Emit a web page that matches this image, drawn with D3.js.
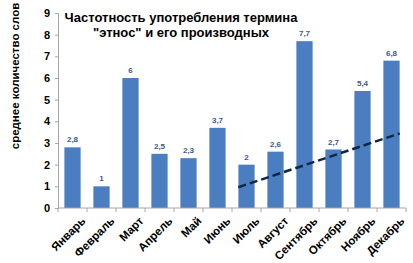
<!DOCTYPE html>
<html>
<head>
<meta charset="utf-8">
<script src="https://cdn.jsdelivr.net/npm/d3@7"></script>
<style>
  body { margin: 0; background: #fff; }
  text { font-family: "Liberation Sans", Arial, sans-serif; }
</style>
</head>
<body>
<div id="chart"></div>
<script>
// data
const months = ["Январь", "Февраль", "Март", "Апрель", "Май", "Июнь",
                "Июль", "Август", "Сентябрь", "Октябрь", "Ноябрь", "Декабрь"];
const values = [2.8, 1, 6, 2.5, 2.3, 3.7, 2, 2.6, 7.7, 2.7, 5.4, 6.8];
const valueLabels = ["2,8", "1", "6", "2,5", "2,3", "3,7", "2", "2,6", "7,7", "2,7", "5,4", "6,8"];
const yTicks = [0, 1, 2, 3, 4, 5, 6, 7, 8, 9];
// dashed trend line: from Июль bar to Декабрь bar
const trendMonths = ["Июль", "Декабрь"];
const trendValues = [0.96, 3.44];

const titleLines = ["Частотность употребления термина", "\"этнос\" и его производных"];
const yTitle = "среднее количество слов";

const W = 413, H = 263;
const margin = {top: 13, right: 7, bottom: 55, left: 58};
const width = W - margin.left - margin.right;
const height = H - margin.top - margin.bottom;

const svg = d3.select("#chart").append("svg")
    .attr("width", W)
    .attr("height", H);

const g = svg.append("g")
    .attr("transform", `translate(${margin.left},${margin.top})`);

const x = d3.scaleBand()
    .domain(months)
    .range([0, width])
    .paddingInner(0.44)
    .paddingOuter(0.22);

const y = d3.scaleLinear()
    .domain([0, 9])
    .range([height, 0]);

// bars
g.selectAll("rect.bar")
    .data(values)
    .enter().append("rect")
    .attr("class", "bar")
    .attr("x", (d, i) => x(months[i]))
    .attr("y", d => y(d))
    .attr("width", x.bandwidth())
    .attr("height", d => height - y(d))
    .attr("fill", "#4a7ec0");

// value labels
g.selectAll("text.val")
    .data(values)
    .enter().append("text")
    .attr("class", "val")
    .attr("x", (d, i) => x(months[i]) + x.bandwidth() / 2)
    .attr("y", d => y(d) - 5)
    .attr("text-anchor", "middle")
    .style("font-size", "8px")
    .style("font-weight", "bold")
    .style("fill", "#3a5a8c")
    .text((d, i) => valueLabels[i]);

// y axis
const yAxis = g.append("g")
    .call(d3.axisLeft(y).tickValues(yTicks).tickSize(3).tickFormat(d3.format("d")));
yAxis.select(".domain").attr("stroke", "#a6a6a6");
yAxis.selectAll(".tick line").attr("stroke", "#a6a6a6");
yAxis.selectAll("text")
    .attr("x", -8)
    .style("font-size", "11px")
    .style("font-weight", "bold")
    .style("font-family", "Liberation Sans, Arial, sans-serif")
    .style("fill", "#000");

// x axis with ticks at category boundaries
const xAxis = g.append("g")
    .attr("transform", `translate(0,${height})`);
xAxis.append("line")
    .attr("x1", 0).attr("x2", width)
    .attr("stroke", "#a6a6a6");
const step = x.step();
xAxis.selectAll("line.tk")
    .data(d3.range(months.length + 1))
    .enter().append("line")
    .attr("class", "tk")
    .attr("x1", i => i * step)
    .attr("x2", i => i * step)
    .attr("y1", 0).attr("y2", 4)
    .attr("stroke", "#a6a6a6");

xAxis.selectAll("text.mon")
    .data(months)
    .enter().append("text")
    .attr("class", "mon")
    .attr("transform", d => `translate(${x(d) + x.bandwidth() / 2 + 8},${8}) rotate(-45)`)
    .attr("text-anchor", "end")
    .attr("dy", "0.7em")
    .style("font-size", "11.5px")
    .style("font-weight", "bold")
    .style("fill", "#000")
    .text(d => d);

// trend line
const tx0 = x(trendMonths[0]);
const tx1 = x(trendMonths[1]) + x.bandwidth();
g.append("line")
    .attr("x1", tx0).attr("y1", y(trendValues[0]))
    .attr("x2", tx1).attr("y2", y(trendValues[1]))
    .attr("stroke", "#0e2747")
    .attr("stroke-width", 2.5)
    .attr("stroke-dasharray", "8,4");

// title
const title = svg.append("text")
    .attr("x", 181)
    .attr("y", 22)
    .attr("text-anchor", "middle")
    .style("font-size", "13px")
    .style("font-weight", "bold")
    .style("fill", "#000");
title.selectAll("tspan")
    .data(titleLines)
    .enter().append("tspan")
    .attr("x", 181)
    .attr("dy", (d, i) => i === 0 ? 0 : 15)
    .text(d => d);

// y title
svg.append("text")
    .attr("transform", `translate(19,${76}) rotate(-90)`)
    .attr("text-anchor", "middle")
    .style("font-size", "11.5px")
    .style("font-weight", "bold")
    .style("fill", "#000")
    .text(yTitle);
</script>
</body>
</html>
